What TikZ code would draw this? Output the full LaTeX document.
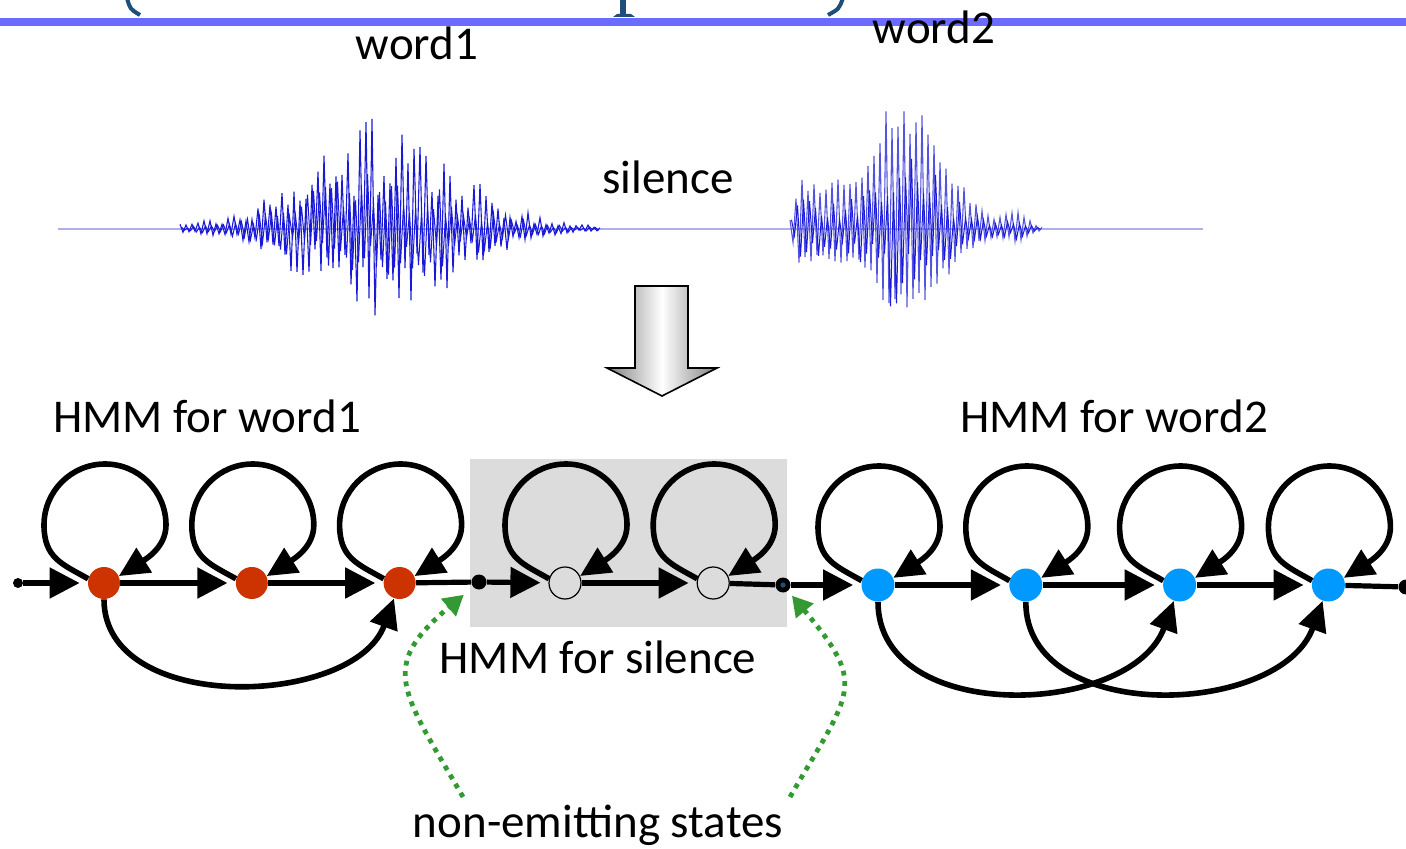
\documentclass[tikz,border=0pt]{standalone}
\usepackage{fontspec}
\setmainfont{Carlito}
\usepackage{tikz}
\usetikzlibrary{positioning}
\usetikzlibrary{arrows.meta,calc}
\tikzset{line/.style={draw, line width=2.6pt, -{Triangle[length=15pt,width=15pt]}, shorten >=4pt}}
\definecolor{stred}{RGB}{204,51,0}
\definecolor{stblue}{RGB}{0,153,255}
\definecolor{boxgrey}{RGB}{220,220,220}
\definecolor{wave}{RGB}{25,25,215}
\definecolor{rule}{RGB}{107,107,255}
\definecolor{titleblue}{RGB}{31,78,121}
\definecolor{notegreen}{RGB}{51,153,51}

\begin{document}
\begin{tikzpicture}[x=0.5pt, y=0.5pt, font=\fontsize{23.5}{28}\selectfont,
  declare function={
    gsq(\u)=min(\u*\u,20);
    alt(\x,\a)=1-2*mod(round((\x-\a)/3),2);
    envA(\x)=2+110*exp(-gsq((\x-380)/105));
    envB(\x)=(\x<897)*(min(50,(\x-788)*5)+85*exp(-gsq((\x-897)/25)))
            +(\x>=897)*(138*exp(-gsq((\x-897)/62))+16*exp(-gsq((\x-1018)/15)));
  }]
\tikzstyle{redstate} = [circle, fill=stred, minimum size=16pt, inner sep=0pt]
\tikzstyle{greystate} = [circle, draw, fill=boxgrey, line width=0.6pt, minimum size=16pt, inner sep=0pt]
\tikzstyle{bluestate} = [circle, fill=stblue, minimum size=16.5pt, inner sep=0pt]
\tikzstyle{nonemit} = [circle, fill=black, minimum size=7.5pt, inner sep=0pt]
\tikzstyle{enddot} = [circle, fill=black, minimum size=5pt, inner sep=0pt]
\tikzstyle{plain} = [draw, line width=2.6pt]
\tikzstyle{selfloop} = [draw, line width=2.8pt, -{Triangle[length=15pt,width=14pt]}]
\tikzstyle{skip} = [draw, line width=2.8pt, -{Triangle[length=15pt,width=14pt]}]
\tikzstyle{note} = [draw=notegreen, line width=2.4pt, dash pattern=on 2.4pt off 2.8pt, -{Triangle[length=10pt,width=11pt]}]

\useasboundingbox (0,0) rectangle (1406,-849);
\fill[white] (0,0) rectangle (1406,-849);

% title rule
\draw[titleblue, line width=2pt] (127,2) .. controls (130,-9) .. (140,-15);
\fill[titleblue] (620,2) rectangle (626,-15);
\fill[titleblue] (613,-17) -- (635,-17) -- (631,-14) -- (617,-14) -- cycle;
\draw[titleblue, line width=2pt] (843,2) .. controls (839,-9) .. (828,-15);
\fill[rule] (0,-18) rectangle (1406,-26);

% waveform
\draw[wave!35, line width=0.6pt] (58,-229) -- (1203,-229);
\pgfmathsetseed{11}
\draw[wave, line width=0.55pt] plot[domain=180:600, samples=141]
  (\x, {-229+envA(\x)*(0.3+0.7*rnd)*alt(\x,180)*(0.9+0.1*alt(\x,180))});
\draw[wave, line width=0.5pt] plot[domain=181.5:598.5, samples=140]
  (\x, {-229+0.5*envA(\x)*(0.3+0.7*rnd)*alt(\x,181.5)});
\draw[wave!75, line width=0.55pt] plot[domain=790:1042, samples=85]
  (\x, {-229+envB(\x)*(0.7+0.3*rnd)*alt(\x,790)*(0.84+0.16*alt(\x,790))});
\draw[wave, line width=0.5pt] plot[domain=791.5:1040.5, samples=84]
  (\x, {-229+0.6*envB(\x)*(0.3+0.7*rnd)*alt(\x,791.5)});

% text
\node (word1) at (417,-43) {word1};
\node (word2) at (934,-27) {word2};
\node (silence) at (668,-177) {silence};
\node (hmm1) at (207,-416) {HMM for word1};
\node (hmm2) at (1114,-416) {HMM for word2};

% down arrow
\path[draw, line width=0.8pt, left color=black!50, right color=black!50, middle color=white]
  (635,-286) -- (688,-286) -- (688,-368) -- (717,-368) -- (662,-396)
  -- (607,-368) -- (635,-368) -- cycle;

% blocks
\node[fill=boxgrey, minimum width=158.5pt, minimum height=84pt, inner sep=0pt] (silbox) at (628.5,-543) {};
\node (hmms) at (598,-657) {HMM for silence};
\node (nes) at (598,-825) {non-emitting states};

\node[enddot] (st) at (18,-583) {};
\node[redstate] (r1) at (104,-583) {};
\node[redstate, right=57.5pt of r1] (r2) {};
\node[redstate, right=57.5pt of r2] (r3) {};
\node[nonemit] (ne1) at (479,-582) {};
\node[greystate] (g1) at (565,-583) {};
\node[greystate, right=57.5pt of g1] (g2) {};
\node[nonemit] (ne2) at (783,-585) {};
\fill[titleblue] (ne2) circle (1.3pt);
\node[bluestate] (b1) at (878,-585) {};
\node[bluestate, right=57pt of b1] (b2) {};
\node[bluestate, right=60pt of b2] (b3) {};
\node[bluestate, right=57.5pt of b3] (b4) {};
\node[nonemit] (en) at (1406,-587) {};

\coordinate (nl) at (463,-797);
\coordinate (nr) at (790,-797);

% arrows
\path [line] (st) -- (r1);
\path [line] (r1) -- (r2);
\path [line] (r2) -- (r3);
\path [plain] (r3) -- (ne1);
\path [line] (ne1) -- (g1);
\path [line] (g1) -- (g2);
\path [plain] (g2) -- (ne2);
\path [line] (ne2) -- (b1);
\path [line] (b1) -- (b2);
\path [line] (b2) -- (b3);
\path [line] (b3) -- (b4);
\path [plain] (b4) -- (en);
\foreach \s in {r1,r2,r3,g1,g2,b1,b2,b3,b4}
  \path [selfloop] (\s.165) .. controls ($(\s)+(-42,19)$) and ($(\s)+(-60,25)$) .. ($(\s)+(-60,58)$)
    arc[start angle=180, end angle=0, radius=30.5pt]
    .. controls +(0,-22) and ($(\s)+(42,24)$) .. (\s.25);
\path [skip] (r1) to[out=-90, in=-110, distance=58pt] (r3);
\path [skip] (b1) to[out=-90, in=-110, distance=62pt] (b3);
\path [skip] (b2) to[out=-90, in=-110, distance=62pt] (b4);
\path [note, shorten >=6pt] (nl) to[out=120, in=-140, distance=62pt] (ne1);
\path [note, shorten >=3pt] (nr) to[out=60, in=-50, distance=62pt] (ne2);
\end{tikzpicture}
\end{document}
